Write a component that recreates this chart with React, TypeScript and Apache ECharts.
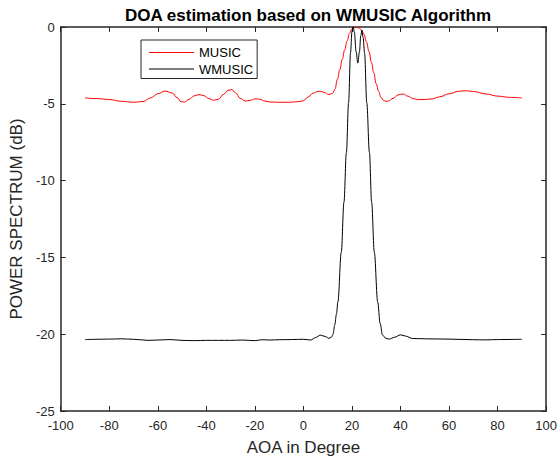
import React, { useEffect, useRef } from "react";
import * as echarts from "echarts";

const FONT = "'Liberation Sans', Arial, Helvetica, sans-serif";
const AXIS_COLOR = "#262626";

const chartTitle = "DOA estimation based on WMUSIC Algorithm";
const xAxisName = "AOA in Degree";
const yAxisName = "POWER SPECTRUM (dB)";
const seriesNames = ["MUSIC", "WMUSIC"];
const seriesColors = ["#ff0000", "#000000"];

// MUSIC spectrum (angle in degrees, power in dB)
const musicAngles = [
  -90, -85, -80, -75, -70, -66, -63, -60, -57, -54, -52, -50.5, -49, -47, -45, -43, -41, -39, -37, -35,
  -33, -31, -29.5, -28, -26, -24, -22, -20, -18, -16, -14, -10, -6, -2, 0, 2, 4, 6, 7, 8.5,
  10.5, 12, 13, 14, 15, 16, 17, 18, 19, 20, 21, 22, 23, 24, 25, 26, 27, 28, 29, 30,
  31, 32, 33, 34, 35, 37, 39, 41, 43, 45, 47, 50, 53, 56, 60, 64, 67, 70, 75, 80, 85, 90,
];
const musicValues = [
  -4.62, -4.66, -4.72, -4.84, -4.9, -4.85, -4.62, -4.35, -4.17, -4.3, -4.6, -4.86, -4.88, -4.7, -4.48, -4.4, -4.47, -4.66, -4.77, -4.7,
  -4.4, -4.12, -4.08, -4.28, -4.65, -4.82, -4.78, -4.68, -4.7, -4.82, -4.88, -4.9, -4.9, -4.86, -4.8, -4.55, -4.3, -4.2, -4.19, -4.25,
  -4.4, -4.32, -4.05, -3.4, -2.78, -2.1, -1.49, -0.9, -0.41, -0.12, -0.01, 0, -0.07, -0.22, -0.5, -0.98, -1.6, -2.3, -3.0, -3.7,
  -4.2, -4.6, -4.78, -4.84, -4.82, -4.64, -4.42, -4.36, -4.5, -4.65, -4.73, -4.72, -4.68, -4.55, -4.35, -4.18, -4.15, -4.2, -4.35, -4.5, -4.58, -4.62,
];

// WMUSIC spectrum
const wmusicAngles = [
  -90, -80, -75, -70, -64, -60, -55, -50, -45, -40, -35, -30, -25, -20, -17, -14, -10, -5, 0, 3,
  5, 7, 9, 10.5, 11.5, 12.2, 12.9, 13.6, 14.2, 15.6, 16.7, 17.7, 18.6, 19.4, 20.0, 20.5, 21, 21.7, 22.4, 23.1,
  23.6, 24.1, 24.6, 25.2, 26.1, 27.2, 28.1, 29.2, 30.6, 31.6, 32.6, 34, 35.4, 37.5, 40, 42, 45, 50, 60, 70,
  75, 80, 90,
];
const wmusicValues = [
  -20.35, -20.32, -20.3, -20.33, -20.4, -20.38, -20.35, -20.4, -20.42, -20.4, -20.4, -20.4, -20.38, -20.42, -20.36, -20.38, -20.36, -20.35, -20.33, -20.38,
  -20.22, -20.06, -20.15, -20.27, -20.2, -20.0, -19.4, -18.7, -17.9, -14.66, -11.4, -8.18, -4.94, -1.7, -0.3, 0, -0.35, -1.6, -2.35, -1.6,
  -0.6, -0.2, -0.7, -1.7, -4.94, -8.18, -11.4, -14.66, -17.9, -19.3, -20.06, -20.27, -20.32, -20.2, -20.04, -20.12, -20.28, -20.3, -20.32, -20.36,
  -20.37, -20.35, -20.33,
];

const xMin = -100;
const xMax = 100;
const xStep = 20;
const yMin = -25;
const yMax = 0;
const yStep = 5;

export default function App() {
  const ref = useRef<HTMLDivElement>(null);

  useEffect(() => {
    document.body.style.margin = "0";
    if (!ref.current) return;
    const chart = echarts.init(ref.current, undefined, { renderer: "svg" });

    const musicData = musicAngles.map((a, i) => [a, musicValues[i]]);
    const wmusicData = wmusicAngles.map((a, i) => [a, wmusicValues[i]]);

    const tickStyle = { show: true, inside: true, length: 5, lineStyle: { color: AXIS_COLOR, width: 1 } };
    const lineStyle = { color: AXIS_COLOR, width: 1.5 };

    chart.setOption({
      animation: false,
      backgroundColor: "#ffffff",
      textStyle: { fontFamily: FONT },
      title: {
        text: chartTitle,
        left: 303,
        textAlign: "center",
        top: 2,
        textStyle: { fontFamily: FONT, fontSize: 17, fontWeight: "bold", color: "#000" },
      },
      legend: {
        orient: "vertical",
        left: 141,
        top: 40,
        data: seriesNames.map((n, i) => ({ name: n, icon: "rect", itemStyle: { color: seriesColors[i] } })),
        itemWidth: 45,
        itemHeight: 1,
        itemGap: 3.5,
        padding: [6, 4, 3, 8],
        borderColor: AXIS_COLOR,
        borderWidth: 1,
        backgroundColor: "#fff",
        textStyle: { fontFamily: FONT, fontSize: 13, color: "#000", padding: [0, 0, 0, 0], lineHeight: 13 },
      },
      grid: { left: 59, right: 12, top: 27, bottom: 48, containLabel: false },
      xAxis: [
        {
          type: "value",
          position: "bottom",
          min: xMin,
          max: xMax,
          interval: xStep,
          name: xAxisName,
          nameLocation: "middle",
          nameGap: 28,
          nameTextStyle: { fontFamily: FONT, fontSize: 17, color: AXIS_COLOR },
          axisLine: { show: true, onZero: false, lineStyle },
          axisTick: tickStyle,
          axisLabel: { margin: 8, fontFamily: FONT, fontSize: 13, color: AXIS_COLOR },
          splitLine: { show: false },
        },
        {
          type: "value",
          position: "top",
          min: xMin,
          max: xMax,
          interval: xStep,
          axisLine: { show: true, onZero: false, lineStyle },
          axisTick: tickStyle,
          axisLabel: { show: false },
          splitLine: { show: false },
        },
      ],
      yAxis: [
        {
          type: "value",
          position: "left",
          min: yMin,
          max: yMax,
          interval: yStep,
          name: yAxisName,
          nameLocation: "middle",
          nameGap: 33,
          nameTextStyle: { fontFamily: FONT, fontSize: 17, color: AXIS_COLOR },
          axisLine: { show: true, onZero: false, lineStyle },
          axisTick: tickStyle,
          axisLabel: { margin: 6, fontFamily: FONT, fontSize: 13, color: AXIS_COLOR },
          splitLine: { show: false },
        },
        {
          type: "value",
          position: "right",
          min: yMin,
          max: yMax,
          interval: yStep,
          axisLine: { show: true, onZero: false, lineStyle },
          axisTick: tickStyle,
          axisLabel: { show: false },
          splitLine: { show: false },
        },
      ],
      series: [
        {
          name: seriesNames[0],
          type: "line",
          xAxisIndex: 0,
          yAxisIndex: 0,
          data: musicData,
          symbol: "none",
          smooth: 0.4,
          smoothMonotone: "x",
          lineStyle: { color: seriesColors[0], width: 1 },
          itemStyle: { color: seriesColors[0] },
          z: 3,
        },
        {
          name: seriesNames[1],
          type: "line",
          xAxisIndex: 0,
          yAxisIndex: 0,
          data: wmusicData,
          symbol: "none",
          smooth: 0.35,
          smoothMonotone: "x",
          lineStyle: { color: seriesColors[1], width: 1 },
          itemStyle: { color: seriesColors[1] },
          z: 4,
        },
      ],
    });

    return () => chart.dispose();
  }, []);

  return <div ref={ref} style={{ width: 560, height: 461 }} />;
}
